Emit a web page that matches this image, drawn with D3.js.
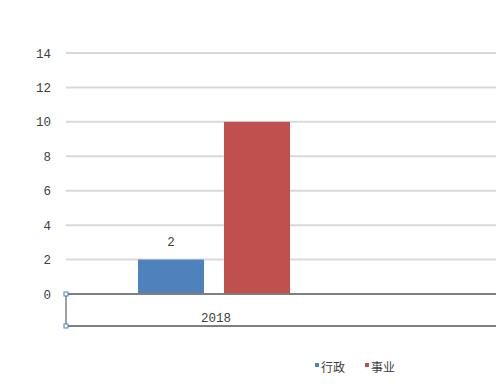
<!DOCTYPE html>
<html>
<head>
<meta charset="utf-8">
<script src="https://cdn.jsdelivr.net/npm/d3@7"></script>
<style>
  body { margin: 0; background: #fff; }
  text { font-family: "Liberation Mono", "DejaVu Sans Mono", monospace; }
</style>
</head>
<body>
<div id="chart"></div>
<script>
// data
var categories = ["2018"];
var seriesNames = ["行政", "事业"];
var seriesColors = ["#4f81bd", "#c0504d"];
var values = [[2, 10]];           // per category, per series
var labels = [["2", ""]];          // data labels shown
var yTicks = [0, 2, 4, 6, 8, 10, 12, 14];

(function() {
  var W = 496, H = 387;
  var plotLeft = 66, plotRight = 362, gridRight = 496, plotTop = 53, plotBottom = 294;

  var svg = d3.select("#chart").append("svg")
    .attr("width", W).attr("height", H);

  var y = d3.scaleLinear().domain([0, 14]).range([plotBottom, plotTop]);
  var x0 = d3.scaleBand().domain(categories).range([plotLeft, plotRight])
    .paddingInner(0).paddingOuter(0.4737);
  var x1 = d3.scaleBand().domain(seriesNames).range([0, x0.bandwidth()])
    .paddingInner(0.2326).paddingOuter(0);

  // gridlines
  svg.append("g").selectAll("line")
    .data(yTicks.filter(function(d) { return d > 0; }))
    .enter().append("line")
    .attr("x1", plotLeft).attr("x2", gridRight)
    .attr("y1", function(d) { return y(d); })
    .attr("y2", function(d) { return y(d); })
    .attr("stroke", "#d9d9d9").attr("stroke-width", 2);

  // y tick labels
  svg.append("g").selectAll("text")
    .data(yTicks).enter().append("text")
    .attr("x", 51).attr("y", function(d) { return y(d) + 4.5; })
    .attr("text-anchor", "end")
    .attr("font-size", 12.5).attr("fill", "#404040")
    .text(function(d) { return d; });

  // bars
  var groups = svg.append("g").selectAll("g")
    .data(categories).enter().append("g")
    .attr("transform", function(d) { return "translate(" + x0(d) + ",0)"; });

  groups.selectAll("rect")
    .data(function(d, i) { return values[i].map(function(v, j) { return {v: v, s: seriesNames[j], j: j}; }); })
    .enter().append("rect")
    .attr("x", function(d) { return x1(d.s); })
    .attr("y", function(d) { return y(d.v); })
    .attr("width", x1.bandwidth())
    .attr("height", function(d) { return y(0) - y(d.v); })
    .attr("fill", function(d) { return seriesColors[d.j]; });

  groups.selectAll("text.lbl")
    .data(function(d, i) { return values[i].map(function(v, j) { return {v: v, s: seriesNames[j], t: labels[i][j]}; }); })
    .enter().append("text")
    .attr("class", "lbl")
    .attr("x", function(d) { return x1(d.s) + x1.bandwidth() / 2; })
    .attr("y", function(d) { return y(d.v) - 14; })
    .attr("text-anchor", "middle")
    .attr("font-size", 12.5).attr("fill", "#404040")
    .text(function(d) { return d.t; });

  // x axis box
  var boxBottom = 326;
  svg.append("line").attr("x1", plotLeft).attr("x2", gridRight)
    .attr("y1", plotBottom).attr("y2", plotBottom)
    .attr("stroke", "#7f7f7f").attr("stroke-width", 2);
  svg.append("line").attr("x1", plotLeft).attr("x2", gridRight)
    .attr("y1", boxBottom).attr("y2", boxBottom)
    .attr("stroke", "#7f7f7f").attr("stroke-width", 2);
  svg.append("line").attr("x1", plotLeft).attr("x2", plotLeft)
    .attr("y1", plotBottom).attr("y2", boxBottom)
    .attr("stroke", "#7f7f7f").attr("stroke-width", 1.5);

  // corner handles
  svg.selectAll("rect.h").data([plotBottom, boxBottom]).enter().append("rect")
    .attr("class", "h")
    .attr("x", plotLeft - 2).attr("y", function(d) { return d - 2; })
    .attr("width", 4).attr("height", 4)
    .attr("fill", "#fff").attr("stroke", "#4f81bd").attr("stroke-width", 1);

  // category labels
  svg.append("g").selectAll("text")
    .data(categories).enter().append("text")
    .attr("x", function(d) { return x0(d) + x0.bandwidth() / 2 + 2; })
    .attr("y", 322)
    .attr("text-anchor", "middle")
    .attr("font-size", 12.5).attr("fill", "#404040")
    .text(function(d) { return d; });

  // legend
  var legendX = [315, 365];
  var lg = svg.append("g").selectAll("g")
    .data(seriesNames).enter().append("g")
    .attr("transform", function(d, i) { return "translate(" + legendX[i] + ",0)"; });
  lg.append("rect").attr("x", 0).attr("y", 363).attr("width", 4).attr("height", 4)
    .attr("fill", function(d, i) { return seriesColors[i]; });
  lg.append("text").attr("x", 6).attr("y", 372)
    .attr("font-size", 12).attr("fill", "#404040")
    .style("font-family", "'Noto Sans CJK SC', sans-serif")
    .text(function(d) { return d; });
})();
</script>
</body>
</html>
